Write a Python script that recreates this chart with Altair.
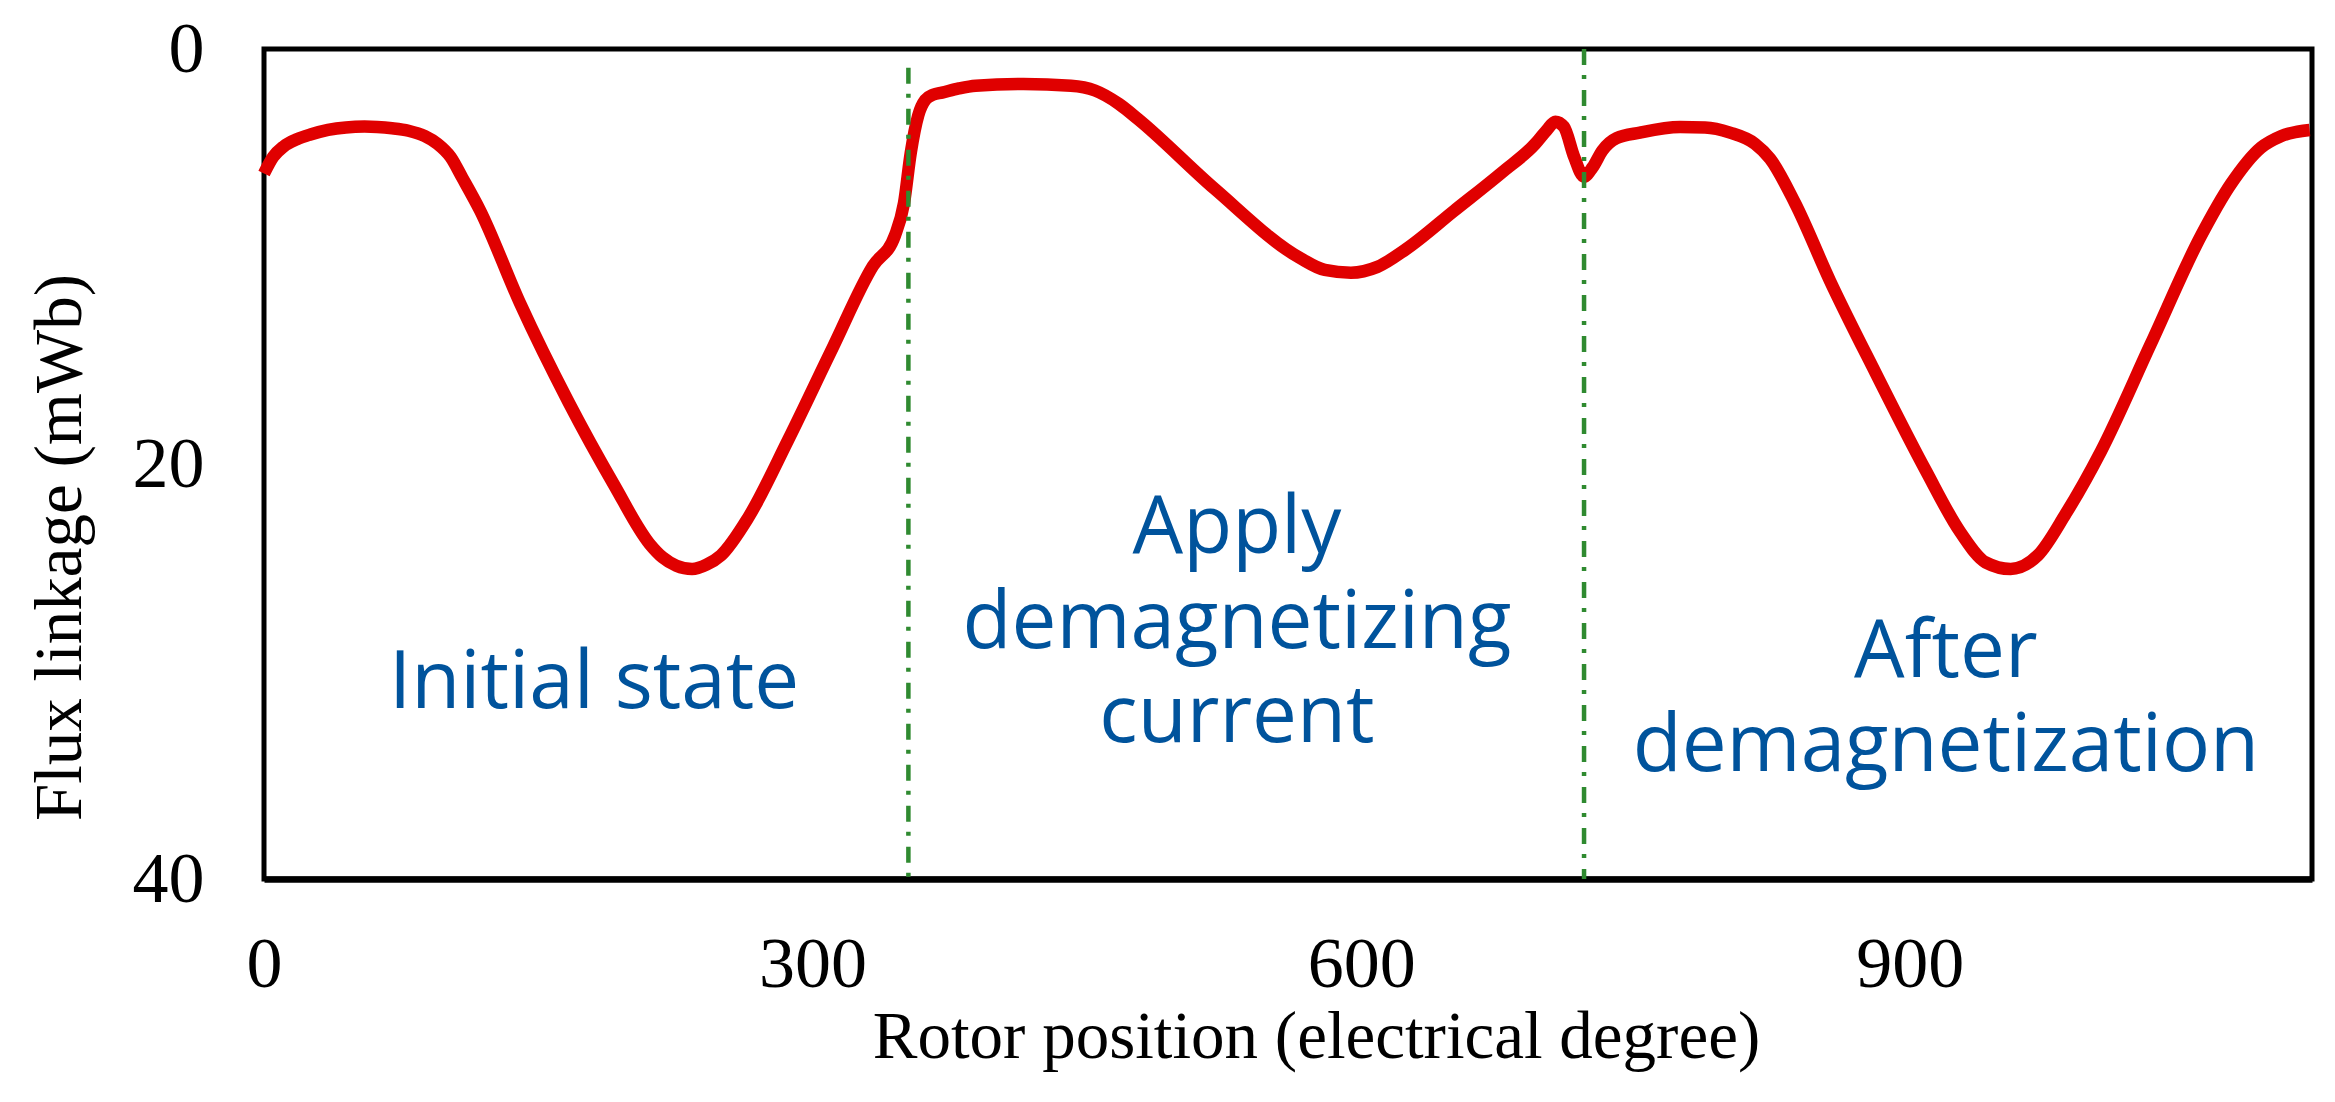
import altair as alt
import pandas as pd

# Rotor position (electrical degree) and flux linkage (mWb)
x_deg = [0, 5, 10.7, 18, 25.4, 35, 44.8, 55, 61.9, 70, 79, 88, 94.9, 102, 108.3, 118.1,
         140, 166.8, 191.4, 210.9, 218, 225.5, 234.1, 242, 249.9, 264.7, 286.6, 311, 333,
         345, 350, 353.7, 357.8, 361.7, 366, 370.8, 380, 389.2, 415.3, 441.3, 454.4, 467.6,
         478, 520, 567.1, 580.1, 594.4, 608.9, 624.5, 650.8, 677, 695.1, 701.6, 706.2,
         710.9, 716.5, 721.8, 726.6, 731.9, 739.7, 752.5, 774.4, 788.1, 801.7, 815.4,
         823.6, 837.3, 856.4, 881.3, 908.7, 927.8, 941.5, 955.2, 970.1, 985.3, 1004.5,
         1031.9, 1059.3, 1075.7, 1092.1, 1103, 1118.7]
flux = [6.0, 5.2, 4.7, 4.35, 4.12, 3.9, 3.78, 3.74, 3.76, 3.82, 3.94, 4.2, 4.57, 5.2, 6.18, 7.77,
        12.25, 17.06, 21.0, 23.85, 24.5, 24.9, 25.06, 24.85, 24.4, 22.6, 18.85, 14.4, 10.46,
        9.0, 7.43, 5.0, 3.2, 2.45, 2.2, 2.1, 1.9, 1.77, 1.69, 1.77, 2.0, 2.65,
        3.38, 6.75, 10.1, 10.65, 10.78, 10.5, 9.65, 7.8, 5.95, 4.58, 3.9, 3.5,
        3.75, 5.2, 6.15, 5.7, 4.9, 4.3, 4.03, 3.76, 3.78, 4.03, 4.57,
        5.28, 7.43, 11.17, 15.6, 20.3, 23.3, 24.74, 25.06, 24.4, 22.4, 19.4,
        14.2, 9.0, 6.5, 4.75, 4.2, 3.9]

# Stage dividers
div_x = [352.4, 721.9]
div_top = [0.9, 0.0]
div_bottom = [40, 40]

# Stage labels
label_lines = [["Initial state"], ["Apply", "demagnetizing", "current"], ["After", "demagnetization"]]
label_x = [180.5, 532.1, 919.8]
label_y = [31.77, 24.3, 30.25]

x_ticks = [0, 300, 600, 900]
y_ticks = [0, 20, 40]

curve = pd.DataFrame({"x": x_deg, "flux": flux})
dividers = pd.DataFrame({"x": div_x, "flux": div_top, "y2": div_bottom})
labels = alt.Data(values=[{"x": a, "flux": b, "lines": t} for a, b, t in zip(label_x, label_y, label_lines)])

xs = alt.Scale(domain=[0, 1120], nice=False, zero=False)
ys = alt.Scale(domain=[0, 40], reverse=True, nice=False, zero=False)

serif = "Liberation Serif"

x_axis = alt.Axis(
    values=x_ticks, title="Rotor position (electrical degree)", grid=False,
    ticks=False, tickSize=0, domain=True, domainColor="black", domainWidth=6.5,
    labelFont=serif, labelFontSize=72, labelColor="black", labelPadding=107,
    labelBaseline="alphabetic", labelFlush=False, labelOverlap=False,
    titleFont=serif, titleFontSize=67, titleFontWeight="normal", titleColor="black",
    titleX=1052, titleY=178, titleAlign="center", titleBaseline="alphabetic",
)
y_axis = alt.Axis(
    values=y_ticks, title="Flux linkage (mWb)", grid=False,
    ticks=False, tickSize=0, domain=False,
    labelFont=serif, labelFontSize=72, labelColor="black", labelPadding=60,
    labelFlush=False, labelOverlap=False,
    titleFont=serif, titleFontSize=67, titleFontWeight="normal", titleColor="black",
    titleX=-184, titleY=498, titleAlign="center", titleBaseline="alphabetic", titleAngle=270,
)

X = alt.X("x:Q", scale=xs, axis=x_axis, title="Rotor position (electrical degree)")
Y = alt.Y("flux:Q", scale=ys, axis=y_axis, title="Flux linkage (mWb)")

line = alt.Chart(curve).mark_line(color="#e00000", strokeWidth=12.5, interpolate="monotone").encode(
    x=X, y=Y,
)

rules = alt.Chart(dividers).mark_rule(color="#2f8a30", strokeWidth=4.5, strokeDash=[16, 10, 4, 11]).encode(
    x=X, y=Y, y2="y2:Q",
)

text = alt.Chart(labels).mark_text(
    font="Open Sans", fontSize=80, color="#00539c", align="center",
    baseline="alphabetic", lineHeight=94.3,
).encode(
    x=X, y=Y,
    text=alt.Text("lines:N"),
)

chart = alt.layer(line, rules, text).properties(
    width=2048, height=830,
    padding={"left": 256, "top": 41, "right": 10, "bottom": 215},
    autosize=alt.AutoSizeParams(type="none"),
    background="white",
).configure_view(stroke="black", strokeWidth=5)

chart.save("out.html", embed_options={"renderer": "svg", "actions": False})
